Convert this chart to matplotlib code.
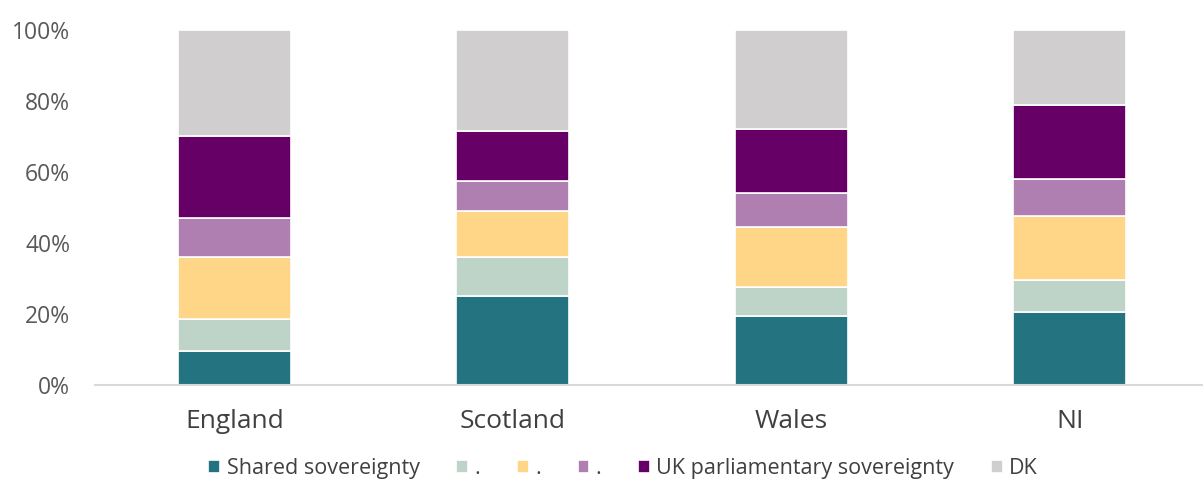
import matplotlib.pyplot as plt
import numpy as np
from matplotlib.ticker import PercentFormatter

plt.rcParams['font.family'] = ['Open Sans', 'DejaVu Sans']

# Anteile je Landesteil (in Prozent)
laender = ['England', 'Scotland', 'Wales', 'NI']
shared = [9.5, 25, 19.5, 20.5]
stufe_2 = [9, 11, 8, 9]
stufe_3 = [17.5, 13, 17, 18]
stufe_4 = [11, 8.5, 9.5, 10.5]
uk_parl = [23, 14, 18, 21]
dk = [30, 28.5, 28, 21]

serien = [
    ('Shared sovereignty', shared, '#237480'),
    ('.', stufe_2, '#BFD4C9'),
    ('.', stufe_3, '#FFD587'),
    ('.', stufe_4, '#B07FB1'),
    ('UK parliamentary sovereignty', uk_parl, '#660066'),
    ('DK', dk, '#D0CECF'),
]

fig = plt.figure(figsize=(12.03, 4.8), dpi=100)
ax = fig.add_axes([0.079, 0.198, 0.926, 0.7395])

x = np.arange(len(laender))
unten = np.zeros(len(laender))
for name, werte, farbe in serien:
    ax.bar(x, werte, 0.405, bottom=unten, color=farbe, edgecolor='white',
           linewidth=1.2, label=name)
    unten += np.array(werte)

ax.set_xlim(-0.5, 3.5)
ax.set_ylim(0, 100)
ax.set_yticks(np.arange(0, 101, 20))
ax.yaxis.set_major_formatter(PercentFormatter(decimals=0))
ax.set_xticks(x)
ax.set_xticklabels(laender, fontsize=19, color='#404040')
ax.tick_params(axis='y', labelsize=16.5, colors='#595959', length=0, pad=18)
ax.tick_params(axis='x', length=0, pad=17)

for seite in ['top', 'right', 'left']:
    ax.spines[seite].set_visible(False)
ax.spines['bottom'].set_color('#D9D9D9')
ax.spines['bottom'].set_linewidth(1.5)

fig.legend(loc='center', bbox_to_anchor=(0.518, 0.024), ncol=6, frameon=False,
           fontsize=15.5, handlelength=0.55, handleheight=0.55, handletextpad=0.3,
           columnspacing=1.7, labelcolor='#404040')

fig.savefig('out.png', dpi=100)
